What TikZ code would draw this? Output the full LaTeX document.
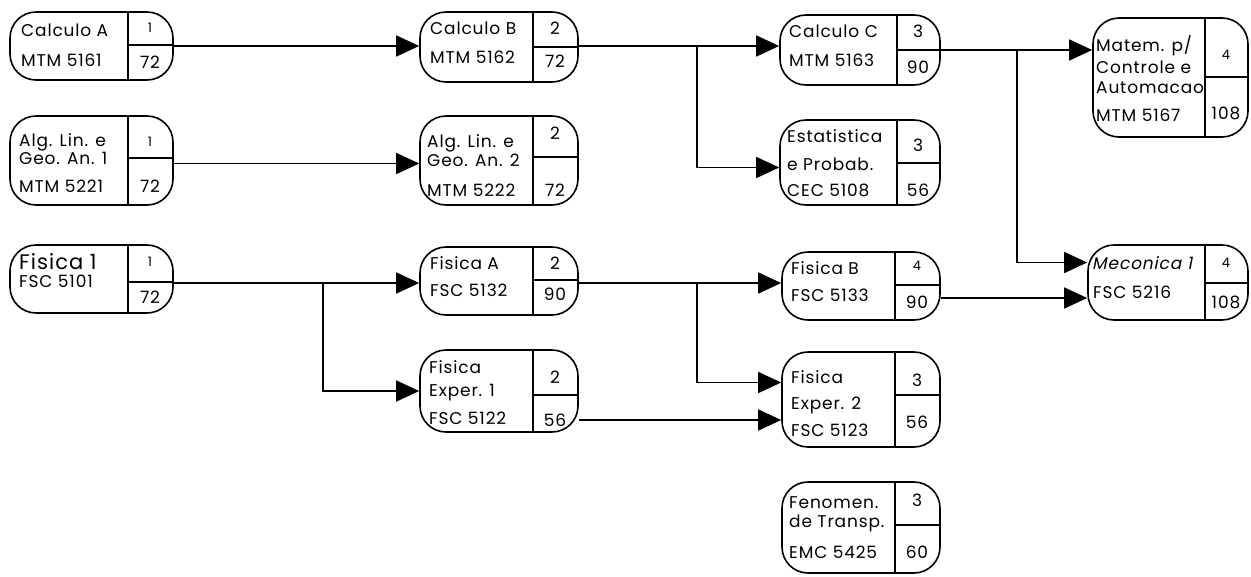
\documentclass[tikz,border=0pt]{standalone}
\usepackage{fontspec}
\setmainfont{Poppins}[LetterSpace=5]
\usetikzlibrary{arrows.meta,fit,calc}
\newcommand\coursebox[7]{%
  \node[box, fit={(#2,#3) (#4,#5)}] (#1) {};
  \draw[divline] (#6,#3) -- (#6,#5) (#6,#7) -- (#4,#7);
}
\begin{document}
\begin{tikzpicture}[x=1pt,y=-1pt,
  box/.style={draw, line width=1.6pt, rounded corners=26pt, inner sep=0pt},
  divline/.style={line width=1.5pt},
  lt/.style={anchor=west, inner sep=0pt, font=\fontsize{17}{17}\selectfont},
  big/.style={anchor=west, inner sep=0pt, font=\fontsize{21}{21}\selectfont},
  num/.style={anchor=center, inner sep=0pt, font=\fontsize{17}{17}\selectfont},
  snum/.style={anchor=center, inner sep=0pt, font=\fontsize{13}{13}\selectfont},
  arr/.style={line width=1.5pt, -{Triangle[length=23pt,width=21pt]}}
]
\useasboundingbox (0,0) rectangle (1251,576);

% ---- column 1
\coursebox{cA}{10}{12}{173}{80}{128}{45}
\node[lt] (cA1) at (21,30) {Calculo A};
\node[lt] (cA2) at (21,60) {MTM 5161};
\node[snum] (cA3) at (150,28) {1};
\node[num] (cA4) at (150,62) {72};

\coursebox{a1}{10}{116}{173}{205}{128}{158}
\node[lt] (a11) at (19,142) {Alg. Lin. e};
\node[lt] (a12) at (19,158) {Geo. An. 1};
\node[lt] (a13) at (19,186) {MTM 5221};
\node[snum] (a14) at (150,142) {1};
\node[num] (a15) at (150,186) {72};

\coursebox{f1}{10}{245}{173}{313}{128}{282}
\node[big] (f11) at (19,262) {Fisica 1};
\node[lt] (f12) at (19,281) {FSC 5101};
\node[snum] (f13) at (150,262) {1};
\node[num] (f14) at (150,297) {72};

% ---- column 2
\coursebox{cB}{420}{12}{578}{82}{533}{47}
\node[lt] (cB1) at (430,28) {Calculo B};
\node[lt] (cB2) at (430,57) {MTM 5162};
\node[num] (cB3) at (555,28) {2};
\node[num] (cB4) at (555,61) {72};

\coursebox{a2}{420}{116}{578}{205}{533}{157}
\node[lt] (a21) at (427,143) {Alg. Lin. e};
\node[lt] (a22) at (427,160) {Geo. An. 2};
\node[lt] (a23) at (427,190) {MTM 5222};
\node[num] (a24) at (555,133) {2};
\node[num] (a25) at (555,190) {72};

\coursebox{fA}{420}{247}{578}{315}{533}{280}
\node[lt] (fA1) at (430,263) {Fisica A};
\node[lt] (fA2) at (430,290) {FSC 5132};
\node[num] (fA3) at (555,263) {2};
\node[num] (fA4) at (555,294) {90};

\coursebox{fe1}{420}{350}{578}{432}{533}{395}
\node[lt] (fe11) at (429,367) {Fisica};
\node[lt] (fe12) at (429,393) {Exper. 1};
\node[lt] (fe13) at (429,418) {FSC 5122};
\node[num] (fe14) at (555,377) {2};
\node[num] (fe15) at (555,420) {56};

% ---- column 3
\coursebox{cC}{780}{15}{940}{85}{897}{50}
\node[lt] (cC1) at (789,31) {Calculo C};
\node[lt] (cC2) at (789,60) {MTM 5163};
\node[num] (cC3) at (918,31) {3};
\node[num] (cC4) at (918,67) {90};

\coursebox{es}{780}{120}{940}{205}{897}{163}
\node[lt] (es1) at (787,136) {Estatistica};
\node[lt] (es2) at (787,164) {e Probab.};
\node[lt] (es3) at (787,190) {CEC 5108};
\node[num] (es4) at (918,145) {3};
\node[num] (es5) at (918,190) {56};

\coursebox{fB}{782}{252}{940}{320}{895}{285}
\node[lt] (fB1) at (791,268) {Fisica B};
\node[lt] (fB2) at (791,295) {FSC 5133};
\node[snum] (fB3) at (917,266) {4};
\node[num] (fB4) at (917,302) {90};

\coursebox{fe2}{782}{352}{940}{447}{895}{395}
\node[lt] (fe21) at (791,377) {Fisica};
\node[lt] (fe22) at (791,405) {Exper. 2};
\node[lt] (fe23) at (791,430) {FSC 5123};
\node[num] (fe24) at (917,380) {3};
\node[num] (fe25) at (917,422) {56};

\coursebox{fn}{782}{482}{940}{573}{895}{525}
\node[lt] (fn1) at (789,503) {Fenomen.};
\node[lt] (fn2) at (789,523) {de Transp.};
\node[lt] (fn3) at (789,552) {EMC 5425};
\node[num] (fn4) at (917,500) {3};
\node[num] (fn5) at (917,552) {60};

% ---- column 4
\coursebox{mt}{1093}{18}{1248}{137}{1205}{77}
\node[lt] (mt1) at (1096,46) {Matem. p/};
\node[lt] (mt2) at (1096,67) {Controle e};
\node[lt] (mt3) at (1096,88) {Automacao};
\node[lt] (mt4) at (1096,115) {MTM 5167};
\node[snum] (mt5) at (1226,55) {4};
\node[num] (mt6) at (1226,113) {108};

\coursebox{me}{1088}{245}{1248}{320}{1205}{283}
\node[lt, font=\fontsize{17}{17}\selectfont\addfontfeature{FakeSlant=0.2}] (me1) at (1092,263) {Meconica 1};
\node[lt] (me2) at (1093,292) {FSC 5216};
\node[snum] (me3) at (1226,263) {4};
\node[num] (me4) at (1226,302) {108};

% ---- connectors
\draw[arr] (cA.east) -- (cA.east -| cB.west);
\coordinate (s2) at ($(a1.east)+(0,3)$);
\draw[arr] (s2) -- (s2 -| a2.west);
\coordinate (j1) at (323,283);
\draw[arr] (f1.east |- j1) -- (j1 -| fA.west);
\draw[arr] (j1) |- (fe1.west);

\coordinate (j2) at (697,46);
\draw[arr] (cB.east |- j2) -- (j2 -| cC.west);
\draw[arr] (j2) |- ($(es.west)+(0,5)$);

\coordinate (j3) at (697,283);
\draw[arr] (fA.east |- j3) -- (j3 -| fB.west);
\draw[arr] (j3) |- ($(fe2.west)+(0,-17)$);
\coordinate (s8) at ($(fe1.east)+(0,29)$);
\draw[arr] (s8) -- (s8 -| fe2.west);

\coordinate (j4) at (1017,50);
\draw[arr] (cC.east |- j4) -- (j4 -| mt.west);
\draw[arr] (j4) |- ($(me.west)+(0,-20)$);
\coordinate (s11) at ($(fB.east)+(0,12)$);
\draw[arr] (s11) -- (s11 -| me.west);
\end{tikzpicture}
\end{document}
